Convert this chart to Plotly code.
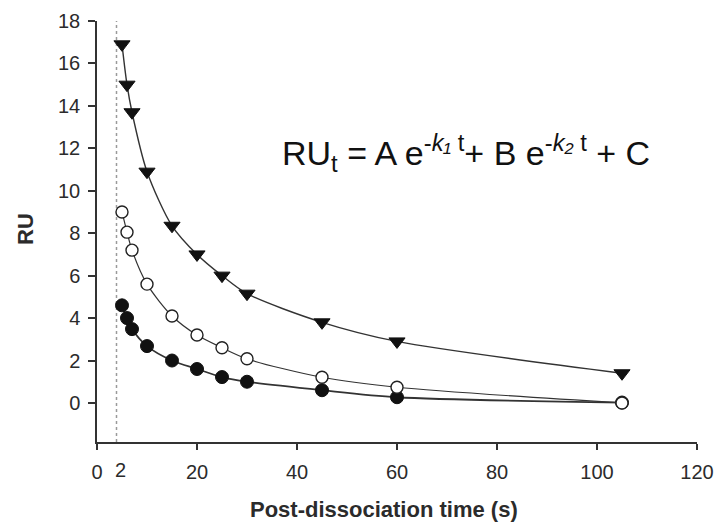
import plotly.graph_objects as go

# Data
t = [5, 6, 7, 10, 15, 20, 25, 30, 45, 60, 105]
ru_high = [16.9, 15.0, 13.7, 10.9, 8.35, 7.0, 6.0, 5.15, 3.8, 2.9, 1.4]
ru_mid = [9.0, 8.05, 7.2, 5.6, 4.1, 3.2, 2.6, 2.08, 1.21, 0.74, 0.0]
ru_low = [4.6, 4.0, 3.48, 2.68, 2.0, 1.6, 1.22, 1.0, 0.6, 0.27, 0.02]

x_ticks = [0, 20, 40, 60, 80, 100, 120]
x_tick_text = ["0", "20", "40", "60", "80", "100", "120"]
y_ticks = [0, 2, 4, 6, 8, 10, 12, 14, 16, 18]
marker_line_x = 3.9        # dotted reference line (labelled "2")
marker_label_x = 4.6
equation_x = 36.6
equation_y = 11.8

FONT = "Liberation Sans, Arial, sans-serif"
INK = "#2b2b2b"
LINE = "#333333"

fig = go.Figure()

fig.add_trace(go.Scatter(
    x=t, y=ru_high, mode="lines+markers",
    line=dict(color=LINE, width=1.4, shape="spline", smoothing=0.8),
    marker=dict(symbol="triangle-down", size=14, color="#111111",
                line=dict(color="#111111", width=1)),
    showlegend=False))

fig.add_trace(go.Scatter(
    x=t, y=ru_low, mode="lines+markers",
    line=dict(color=LINE, width=1.8, shape="spline", smoothing=0.8),
    marker=dict(symbol="circle", size=13, color="#111111",
                line=dict(color="#111111", width=1)),
    showlegend=False))

fig.add_trace(go.Scatter(
    x=t, y=ru_mid, mode="lines+markers",
    line=dict(color=LINE, width=1.2, shape="spline", smoothing=0.8),
    marker=dict(symbol="circle", size=12, color="white",
                line=dict(color="#222222", width=1.4)),
    showlegend=False))

fig.add_shape(type="line", xref="x", yref="y",
              x0=marker_line_x, x1=marker_line_x, y0=-1.84, y1=18,
              line=dict(color="#9a9a9a", width=1.5, dash="dot"), layer="below")

fig.add_annotation(x=marker_label_x, xref="x", y=0, yref="paper",
                   yanchor="top", yshift=-15, showarrow=False,
                   text="2", font=dict(family=FONT, size=20, color=INK))

fig.add_annotation(x=equation_x, xref="x", y=equation_y, yref="y", showarrow=False,
                   xanchor="left", yanchor="middle",
                   text="RU<sub>t</sub> = A e<sup>-<i>k₁</i> t</sup>+ B e<sup>-<i>k₂</i> t</sup> + C",
                   font=dict(family=FONT, size=34, color="#111111"))

# Axis titles
fig.add_annotation(x=384, xref="paper", y=509, yref="paper", showarrow=False,
                   text="<b>Post-dissociation time (s)</b>",
                   font=dict(family=FONT, size=22, color=INK))
fig.add_annotation(x=25, y=229, showarrow=False, textangle=-90,
                   text="<b>RU</b>", font=dict(family=FONT, size=22, color=INK))
# convert the two title positions from pixels to paper coordinates
W, H, L, R, T, B = 716, 522, 97, 19, 21, 80
for ann in fig.layout.annotations[-2:]:
    ann.xref = "paper"
    ann.yref = "paper"
    ann.x = (ann.x - L) / (W - L - R)
    ann.y = 1 - (ann.y - T) / (H - T - B)
    ann.xanchor = "center"
    ann.yanchor = "middle"

fig.update_layout(
    width=W, height=H,
    margin=dict(l=L, r=R, t=T, b=B, autoexpand=False),
    paper_bgcolor="white", plot_bgcolor="white",
    font=dict(family=FONT, color=INK),
    xaxis=dict(range=[0, 120], tickvals=x_ticks, ticktext=x_tick_text,
               ticks="outside", ticklen=6, tickwidth=1.5, tickcolor=LINE,
               showline=True, linecolor=LINE, linewidth=1.5, automargin=False,
               showgrid=False, zeroline=False, ticklabelstandoff=5,
               tickfont=dict(family=FONT, size=20, color=INK)),
    yaxis=dict(range=[-1.84, 18], tickvals=y_ticks,
               ticks="outside", ticklen=7, tickwidth=1.5, tickcolor=LINE,
               showline=True, linecolor=LINE, linewidth=1.5, automargin=False,
               showgrid=False, zeroline=False, ticklabelstandoff=4,
               tickfont=dict(family=FONT, size=20, color=INK)),
)

fig.write_html("out.html")
